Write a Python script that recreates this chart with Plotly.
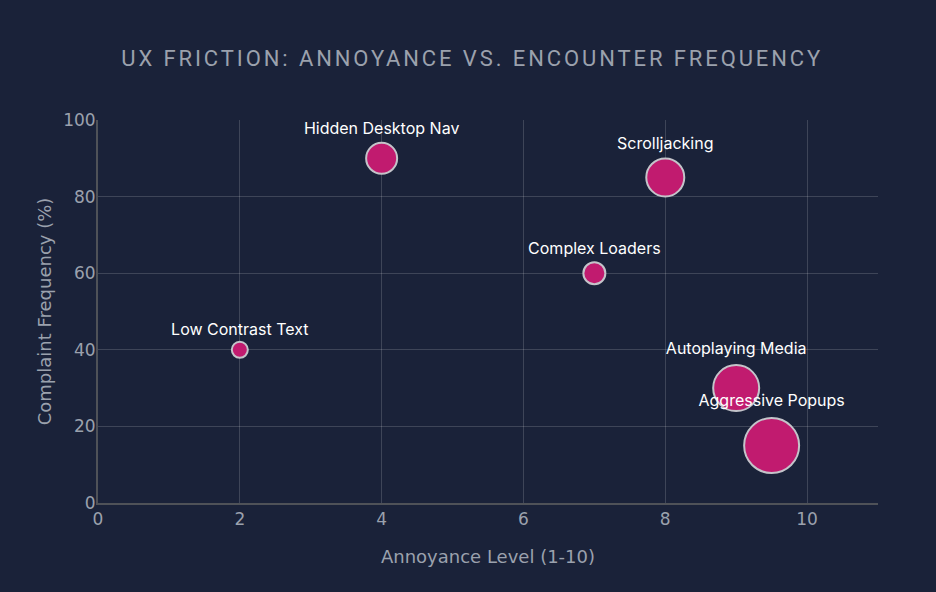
import plotly.graph_objects as go

names = ["Low Contrast Text", "Hidden Desktop Nav", "Complex Loaders", "Scrolljacking", "Autoplaying Media", "Aggressive Popups"]
annoyance = [2, 4, 7, 8, 9, 9.5]
frequency = [40, 90, 60, 85, 30, 15]
impact = [16, 31, 22, 38, 46, 55]

BG = "#1a2239"
MUTED = "#9ba1ad"
AXFONT = "DejaVu Sans, Verdana, sans-serif"

fig = go.Figure(go.Scatter(
    x=annoyance, y=frequency, mode="markers+text", text=names,
    textposition="top center",
    textfont=dict(family="Inter, Liberation Sans, sans-serif", size=16, color="#ffffff"),
    marker=dict(size=impact, color="#c11b6f", opacity=1,
                line=dict(color="#c4c4ca", width=2)),
    hoverinfo="text", showlegend=False,
))

fig.update_layout(
    width=936, height=592,
    paper_bgcolor=BG, plot_bgcolor=BG,
    margin=dict(l=98, r=58, t=120, b=89),
    title=dict(text="UX FRICTION: ANNOYANCE VS. ENCOUNTER FREQUENCY",
               x=0.5045, xanchor="center", y=0.902, yanchor="middle",
               font=dict(family="Roboto, sans-serif", size=22, color=MUTED)),
    xaxis=dict(range=[0, 11], dtick=2, showgrid=True,
               gridcolor="rgba(255,255,255,0.16)", zeroline=False,
               showline=True, linecolor="#4f5258", linewidth=2,
               tickfont=dict(family=AXFONT, size=17, color=MUTED),
               title=dict(text="Annoyance Level (1-10)", standoff=22,
                          font=dict(family=AXFONT, size=18, color=MUTED))),
    yaxis=dict(range=[0, 100], dtick=20, showgrid=True,
               gridcolor="rgba(255,255,255,0.16)", zeroline=False,
               showline=True, linecolor="#4f5258", linewidth=2,
               ticklabelstandoff=-3,
               tickfont=dict(family=AXFONT, size=17, color=MUTED),
               title=dict(text="Complaint Frequency (%)", standoff=7,
                          font=dict(family=AXFONT, size=18, color=MUTED))),
)

post = """
var gd = document.getElementById('{plot_id}');
gd.querySelectorAll('.gtitle').forEach(function(t){ t.style.letterSpacing = '2.9px'; });
"""
fig.write_html("out.html", post_script=post)
